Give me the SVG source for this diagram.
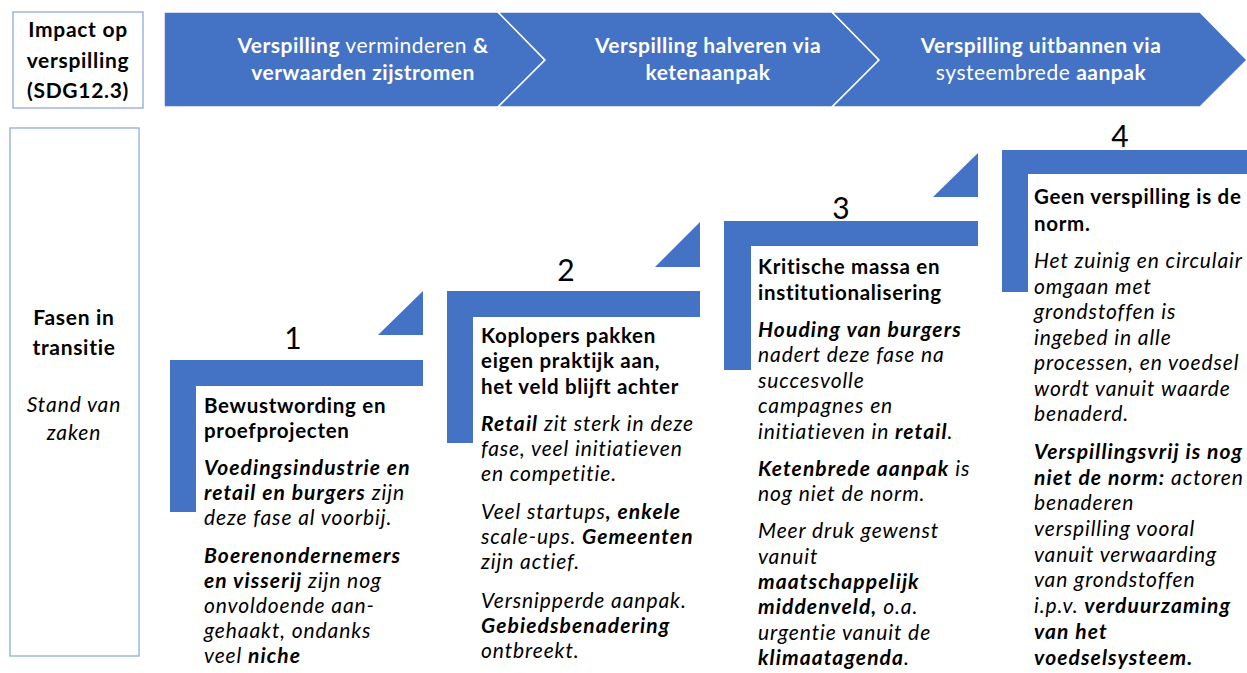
<svg xmlns="http://www.w3.org/2000/svg" width="1247" height="673" viewBox="0 0 1247 673">
<style>
text{font-family:Lato,"Open Sans","Liberation Sans",sans-serif;fill:#000;font-variant-ligatures:none}
.hd{font-size:21px;fill:#fff;text-anchor:middle;letter-spacing:0.5px}
.lb{font-size:21px;font-weight:bold;text-anchor:middle;letter-spacing:0.7px}
.li{font-size:21px;font-style:italic;text-anchor:middle;letter-spacing:0.9px}
.num{font-size:30px;text-anchor:middle}
.body{font-size:21px;font-style:italic;letter-spacing:0.9px}
.t{font-size:20.5px;font-weight:bold;font-style:normal;letter-spacing:0.7px}
.b{font-weight:bold}
.bi{font-weight:bold;font-style:italic;letter-spacing:1.1px}
.box{fill:#fff;stroke:#8FAADC;stroke-width:1.3}
.blue{fill:#4472C4}
.chev{fill:#4472C4;stroke:#fff;stroke-width:1.5}
</style>
<rect width="1247" height="673" fill="#fff"/>
<g id="impact">
<rect class="box" x="13" y="12" width="130" height="96"/>
<text class="lb" x="78" y="37">Impact op</text>
<text class="lb" x="78" y="68">verspilling</text>
<text class="lb" x="78" y="98">(SDG12.3)</text>
</g>
<g id="chevron-1">
<path class="chev" d="M164,12 H498 L545,60 L498,107 H164 Z"/>
<text class="hd" x="363" y="53"><tspan class="b">Verspilling</tspan> verminderen <tspan class="b">&amp;</tspan></text>
<text class="hd b" x="363" y="80">verwaarden zijstromen</text>
</g>
<g id="chevron-2">
<path class="chev" d="M498,12 H832 L879,60 L832,107 H498 L545,60 Z"/>
<text class="hd b" x="708" y="53">Verspilling halveren via</text>
<text class="hd b" x="708" y="80">ketenaanpak</text>
</g>
<g id="chevron-3">
<path class="chev" d="M832,12 H1200 L1247,60 L1200,107 H832 L879,60 Z"/>
<text class="hd b" x="1041" y="53">Verspilling uitbannen via</text>
<text class="hd" x="1041" y="80">systeembrede <tspan class="b">aanpak</tspan></text>
</g>
<g id="fasen">
<rect class="box" x="10" y="128" width="129" height="528"/>
<text class="lb" x="74" y="325">Fasen in</text>
<text class="lb" x="74" y="355">transitie</text>
<text class="li" x="74" y="412">Stand van</text>
<text class="li" x="74" y="440">zaken</text>
</g>
<g id="connectors">
<path class="blue" d="M378,335 H423 V291 Z"/>
<path class="blue" d="M655,267 H700 V222 Z"/>
<path class="blue" d="M933,197 H978 V153 Z"/>
</g>
<g id="step-1">
<path class="blue" d="M170,360 H423 V386 H196 V512 H170 Z"/>
<text class="num" x="293" y="349">1</text>
<text class="body" x="204"><tspan class="t" y="413">Bewustwording en</tspan><tspan class="t" x="204" y="438">proefprojecten</tspan><tspan class="bi" x="204" y="475">Voedingsindustrie en</tspan><tspan class="bi" x="204" y="500">retail en burgers</tspan> zijn<tspan x="204" y="525">deze fase al voorbij.</tspan><tspan class="bi" x="204" y="563">Boerenondernemers</tspan><tspan class="bi" x="204" y="588">en visserij</tspan> zijn nog<tspan x="204" y="613">onvoldoende aan-</tspan><tspan x="204" y="638">gehaakt, ondanks</tspan><tspan x="204" y="663">veel <tspan class="bi">niche</tspan></tspan></text>
</g>
<g id="step-2">
<path class="blue" d="M447,291 H700 V317 H473 V443 H447 Z"/>
<text class="num" x="566" y="281">2</text>
<text class="body" x="481"><tspan class="t" y="343">Koplopers pakken</tspan><tspan class="t" x="481" y="368">eigen praktijk aan,</tspan><tspan class="t" x="481" y="394">het veld blijft achter</tspan><tspan class="bi" x="481" y="431">Retail</tspan> zit sterk in deze<tspan x="481" y="456">fase, veel initiatieven</tspan><tspan x="481" y="481">en competitie.</tspan><tspan x="481" y="519">Veel startups<tspan class="bi">, enkele</tspan></tspan><tspan x="481" y="544">scale-ups. <tspan class="bi">Gemeenten</tspan></tspan><tspan x="481" y="569">zijn actief.</tspan><tspan x="481" y="608">Versnipperde aanpak.</tspan><tspan class="bi" x="481" y="633">Gebiedsbenadering</tspan><tspan x="481" y="658">ontbreekt.</tspan></text>
</g>
<g id="step-3">
<path class="blue" d="M724,221 H978 V246 H751 V370 H724 Z"/>
<text class="num" x="841" y="219">3</text>
<text class="body" x="758"><tspan class="t" y="274">Kritische massa en</tspan><tspan class="t" x="758" y="300">institutionalisering</tspan><tspan class="bi" x="758" y="337">Houding van burgers</tspan><tspan x="758" y="362">nadert deze fase na</tspan><tspan x="758" y="388">succesvolle</tspan><tspan x="758" y="413">campagnes en</tspan><tspan x="758" y="439">initiatieven in <tspan class="bi">retail</tspan>.</tspan><tspan class="bi" x="758" y="476">Ketenbrede aanpak</tspan> is<tspan x="758" y="501">nog niet de norm.</tspan><tspan x="758" y="538">Meer druk gewenst</tspan><tspan x="758" y="564">vanuit</tspan><tspan class="bi" x="758" y="589">maatschappelijk</tspan><tspan class="bi" x="758" y="614">middenveld,</tspan> o.a.<tspan x="758" y="640">urgentie vanuit de</tspan><tspan x="758" y="665"><tspan class="bi">klimaatagenda</tspan>.</tspan></text>
</g>
<g id="step-4">
<path class="blue" d="M1002,150 H1247 V174 H1028 V292 H1002 Z"/>
<text class="num" x="1120" y="147">4</text>
<text class="body" x="1034"><tspan class="t" y="204">Geen verspilling is de</tspan><tspan class="t" x="1034" y="231">norm.</tspan><tspan x="1034" y="268">Het zuinig en circulair</tspan><tspan x="1034" y="294">omgaan met</tspan><tspan x="1034" y="319">grondstoffen is</tspan><tspan x="1034" y="345">ingebed in alle</tspan><tspan x="1034" y="370">processen, en voedsel</tspan><tspan x="1034" y="396">wordt vanuit waarde</tspan><tspan x="1034" y="421">benaderd.</tspan><tspan class="bi" x="1034" y="459">Verspillingsvrij is nog</tspan><tspan class="bi" x="1034" y="485">niet de norm:</tspan> actoren<tspan x="1034" y="510">benaderen</tspan><tspan x="1034" y="536">verspilling vooral</tspan><tspan x="1034" y="562">vanuit verwaarding</tspan><tspan x="1034" y="587">van grondstoffen</tspan><tspan x="1034" y="613">i.p.v.  <tspan class="bi">verduurzaming</tspan></tspan><tspan class="bi" x="1034" y="639">van het</tspan><tspan class="bi" x="1034" y="665">voedselsysteem.</tspan></text>
</g>
</svg>
